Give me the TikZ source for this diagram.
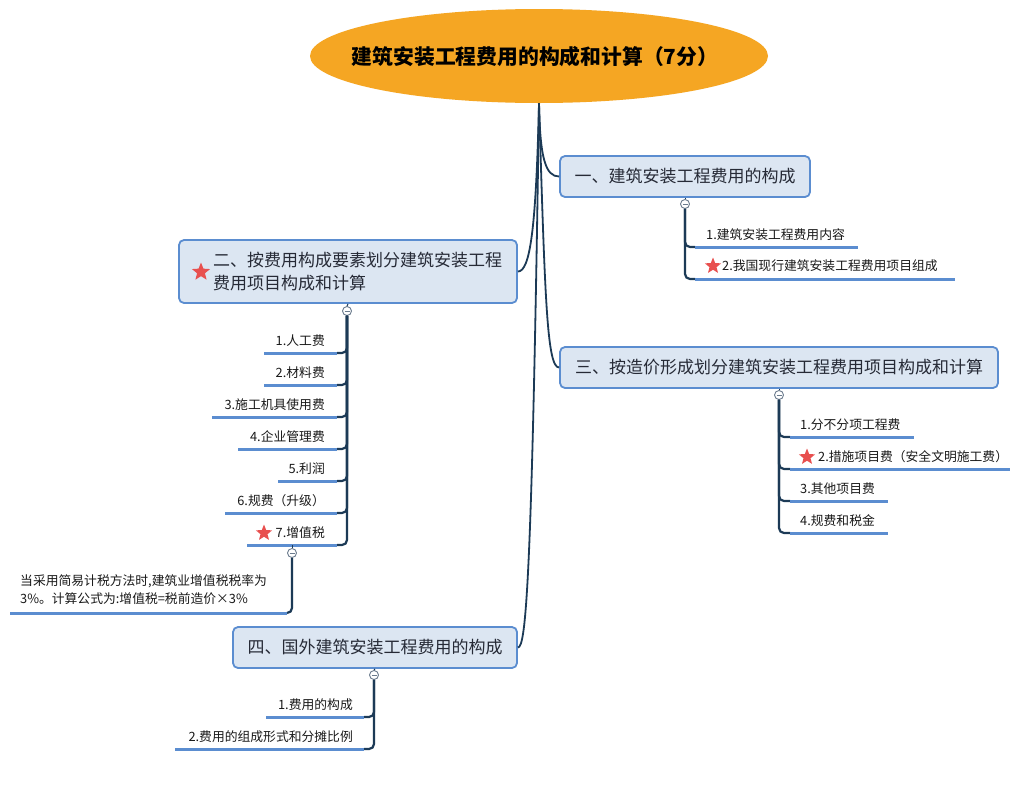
\documentclass[tikz,border=0pt]{standalone}
\usepackage{fontspec}
\setmainfont{Noto Sans CJK SC}
\usetikzlibrary{shapes.geometric}
\definecolor{rootfill}{HTML}{F5A623}
\definecolor{nav}{HTML}{1C3A56}
\definecolor{tfill}{HTML}{DCE6F2}
\definecolor{tline}{HTML}{5B8DD0}
\definecolor{txt}{HTML}{262A36}
\definecolor{starred}{HTML}{E8504F}
\definecolor{cgray}{HTML}{6C7C8E}
\tikzset{
  rootnode/.style={ellipse, fill=rootfill, minimum width=458pt, minimum height=94pt, inner sep=0pt},
  roottext/.style={inner sep=0pt, font=\fontsize{20.8}{24}\selectfont\bfseries, text=black},
  topic/.style={rectangle, rounded corners=5pt, draw=tline, line width=1.8pt, fill=tfill,
    inner sep=0pt, text=txt, font=\fontsize{17}{23}\selectfont},
  ttext/.style={inner sep=0pt, text=txt, font=\fontsize{17}{23}\selectfont, align=left},
  conn/.style={draw=nav, line width=1.8pt},
  bconn/.style={draw=nav, line width=2.2pt, rounded corners=5pt},
  uline/.style={draw=tline, line width=3pt},
  ctext/.style={inner sep=0pt, text=black!90, font=\fontsize{12.8}{19}\selectfont},
  collapse/.style={circle, draw=cgray, fill=white, line width=0.9pt, minimum size=9pt, inner sep=0pt},
  redstar/.style={star, star points=5, star point ratio=2.3, fill=starred, inner sep=0pt, minimum size=19pt}
}
\newcommand{\minus}[1]{\draw[cgray, line width=0.8pt] ([xshift=-2.5pt]#1.center) -- ([xshift=2.5pt]#1.center);}
\begin{document}
\begin{tikzpicture}[x=1pt,y=-1pt]
\useasboundingbox[fill=white] (0,0) rectangle (1030,788);

% root
\node[rootnode] (root) at (539,56) {};
\node[roottext] (roottxt) at (535,57) {建筑安装工程费用的构成和计算（7分）};

% topics
\node[topic, minimum width=250pt, minimum height=41pt] (t1) at (685,176.5) {一、建筑安装工程费用的构成};
\node[topic, minimum width=338pt, minimum height=63pt] (t2) at (348,271.5) {};
\node[ttext, anchor=west] (t2txt) at (213,272) {二、按费用构成要素划分建筑安装工程\\费用项目构成和计算};
\node[redstar] (t2star) at (201,272) {};
\node[topic, minimum width=438pt, minimum height=41pt] (t3) at (779,367.5) {三、按造价形成划分建筑安装工程费用项目构成和计算};
\node[topic, minimum width=284pt, minimum height=41pt] (t4) at (375,647.5) {四、国外建筑安装工程费用的构成};

% root connectors
\draw[conn] (root.south) .. controls (540,160) and (546,176.5) .. (t1.west);
\draw[conn] (root.south) .. controls (536,230) and (530,271.5) .. (t2.east);
\draw[conn] (root.south) .. controls (545,300) and (547,367.5) .. (t3.west);
\draw[conn] (root.south) .. controls (532,580) and (526,647.5) .. (t4.east);

% collapse circles
\node[collapse] (t1c) at (685,204) {};
\node[collapse] (t2c) at (347,311) {};
\node[collapse] (t3c) at (779,395) {};
\node[collapse] (t4c) at (374,675) {};
\node[collapse] (c27c) at (292,553) {};
\draw[conn, line width=1pt] (t1.south) -- (t1c.north);
\draw[conn, line width=1pt] (t2.south) -- (t2c.north);
\draw[conn, line width=1pt] (t3.south) -- (t3c.north);
\draw[conn, line width=1pt] (t4.south) -- (t4c.north);

% ---- T1 children
\coordinate (u11w) at (695,247); \coordinate (u11e) at (858,247);
\coordinate (u12w) at (695,279); \coordinate (u12e) at (955,279);
\draw[bconn] (t1c.south) |- (u11w);
\draw[bconn] (t1c.south) |- (u12w);
\draw[uline] (u11w) -- (u11e);
\draw[uline] (u12w) -- (u12e);
\node[ctext, anchor=west] (c11) at (706,235) {1.建筑安装工程费用内容};
\node[redstar, minimum size=17pt] (s12) at (713,266) {};
\node[ctext, anchor=west] (c12) at (722,266) {2.我国现行建筑安装工程费用项目组成};

% ---- T2 children
\foreach \i/\y/\xl/\t in {1/353/264/1.人工费, 2/385/264/2.材料费, 3/417/212/3.施工机具使用费, 4/449/238/4.企业管理费, 5/481/278/5.利润, 6/513/225/6.规费（升级）, 7/545/247/7.增值税}{
  \coordinate (u2\i e) at (337,\y);
  \coordinate (u2\i w) at (\xl,\y);
  \draw[bconn] (t2c.south) |- (u2\i e);
  \draw[uline] (u2\i w) -- (u2\i e);
  \node[ctext, anchor=east] (c2\i) at (325,\y-12) {\t};
}
\node[redstar, minimum size=17pt] (s27) at (264,533) {};
\draw[conn, line width=1pt] (u27w -| c27c) -- (c27c.north);

% note under 7
\coordinate (u28w) at (10,613); \coordinate (u28e) at (287,613);
\draw[bconn] (c27c.south) |- (u28e);
\draw[uline] (u28w) -- (u28e);
\node[ctext, anchor=north west, align=left, font=\fontsize{12.8}{18.5}\selectfont] (note) at (20,574)
  {当采用简易计税方法时,建筑业增值税税率为\\3\%。计算公式为:增值税=税前造价×3\%};

% ---- T3 children
\foreach \i/\y/\xr in {1/437/914, 2/469/1010, 3/501/888, 4/533/888}{
  \coordinate (u3\i w) at (790,\y);
  \coordinate (u3\i e) at (\xr,\y);
  \draw[bconn] (t3c.south) |- (u3\i w);
  \draw[uline] (u3\i w) -- (u3\i e);
}
\node[ctext, anchor=west] (c31) at (800,425) {1.分不分项工程费};
\node[redstar, minimum size=17pt] (s32) at (807,457) {};
\node[ctext, anchor=west] (c32) at (818,457) {2.措施项目费（安全文明施工费）};
\node[ctext, anchor=west] (c33) at (800,489) {3.其他项目费};
\node[ctext, anchor=west] (c34) at (800,521) {4.规费和税金};

% ---- T4 children
\coordinate (u41w) at (266,717); \coordinate (u41e) at (364,717);
\coordinate (u42w) at (175,749); \coordinate (u42e) at (364,749);
\draw[bconn] (t4c.south) |- (u41e);
\draw[bconn] (t4c.south) |- (u42e);
\draw[uline] (u41w) -- (u41e);
\draw[uline] (u42w) -- (u42e);
\node[ctext, anchor=east] (c41) at (353,705) {1.费用的构成};
\node[ctext, anchor=east] (c42) at (353,737) {2.费用的组成形式和分摊比例};

% minus signs (drawn last, on top)
\minus{t1c}\minus{t2c}\minus{t3c}\minus{t4c}\minus{c27c}
\end{tikzpicture}
\end{document}
